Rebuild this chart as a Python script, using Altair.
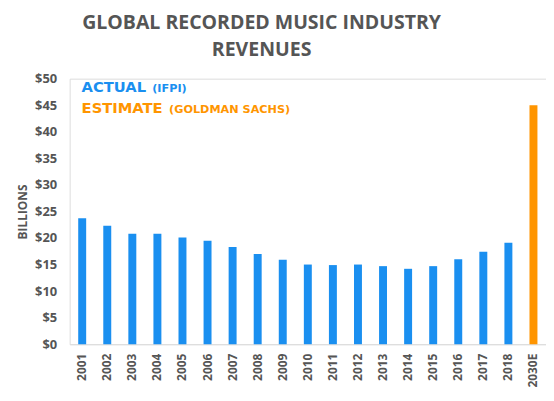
import altair as alt
import pandas as pd

years = ["2001", "2002", "2003", "2004", "2005", "2006", "2007", "2008", "2009",
         "2010", "2011", "2012", "2013", "2014", "2015", "2016", "2017", "2018", "2030E"]
revenue = [23.7, 22.3, 20.8, 20.8, 20.1, 19.5, 18.3, 17.0, 15.9,
           15.0, 14.9, 15.0, 14.7, 14.2, 14.7, 16.0, 17.4, 19.1, 45.0]
kind = ["Actual"] * 18 + ["Estimate"]

title_lines = ["GLOBAL RECORDED MUSIC INDUSTRY", "REVENUES"]
legend_main = ["ACTUAL", "ESTIMATE"]
legend_sub = ["(IFPI)", "(GOLDMAN SACHS)"]

BLUE = "#1a8ff0"
ORANGE = "#ff9500"
GRAY = "#555555"
FONT = "Open Sans"
WIDE = "DejaVu Sans"

df = pd.DataFrame({"year": years, "revenue": revenue, "kind": kind})

bars = alt.Chart(df).mark_bar(size=8).encode(
    x=alt.X("year:N", sort=years, title=None,
            scale=alt.Scale(paddingInner=0, paddingOuter=0),
            axis=alt.Axis(labelAngle=-90, labelFontSize=12, labelFontWeight="bold",
                          labelColor=GRAY, labelFont=FONT, ticks=False,
                          domainColor="#dddddd", labelPadding=9)),
    y=alt.Y("revenue:Q", title="BILLIONS",
            scale=alt.Scale(domain=[0, 50]),
            axis=alt.Axis(values=[0, 5, 10, 15, 20, 25, 30, 35, 40, 45, 50],
                          labelExpr="'$' + datum.value", grid=False, ticks=False,
                          domain=False, labelFontSize=13, labelFontWeight="bold",
                          labelColor=GRAY, labelFont=FONT, labelPadding=13,
                          titleFontSize=12, titleFontWeight="bold", titleColor=GRAY,
                          titleFont=FONT, titlePadding=5)),
    color=alt.Color("kind:N", scale=alt.Scale(domain=["Actual", "Estimate"], range=[BLUE, ORANGE]),
                    legend=None),
)


def label(text, size, color, font, x, y, align="center"):
    return alt.Chart(pd.DataFrame({"t": [text]})).mark_text(
        fontSize=size, fontWeight="bold", color=color, font=font, align=align,
        baseline="alphabetic"
    ).encode(x=alt.value(x), y=alt.value(y), text="t:N")


t1 = label(title_lines[0], 19.6, GRAY, FONT, 193, -50)
t2 = label(title_lines[1], 19.6, GRAY, FONT, 193, -23)
l1 = label(legend_main[0], 14.8, BLUE, WIDE, 12, 13, "left")
l1s = label(legend_sub[0], 11.3, BLUE, WIDE, 83, 13, "left")
l2 = label(legend_main[1], 14.8, ORANGE, WIDE, 12, 35, "left")
l2s = label(legend_sub[1], 11.3, ORANGE, WIDE, 100, 35, "left")

chart = alt.layer(bars, t1, t2, l1, l1s, l2, l2s).properties(
    width=479, height=267,
    autosize=alt.AutoSizeParams(type="none"),
    padding={"left": 62, "top": 70, "right": 0, "bottom": 50},
).configure_view(stroke=None).configure(background="white")

chart.save("out.html", embed_options={"renderer": "svg", "actions": False})
